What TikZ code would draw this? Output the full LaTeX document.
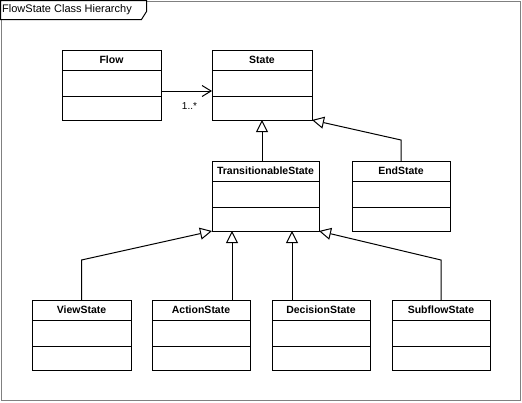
\documentclass[tikz,border=0pt]{standalone}
\usepackage{fontspec}
\setmainfont{Liberation Sans}
\usetikzlibrary{arrows.meta,calc}

% one UML class: name, left x, top y, width, class name
\newcommand\umlclass[5]{%
  \node[classbox, minimum width=#4pt, anchor=north west] (#1) at (#2,#3) {};
  \node[classname] (#1-title) at ($(#1.north)+(0,10)$) {#5};
  \draw[rule] ($(#1.north west)+(0,20)$) -- ($(#1.north east)+(0,20)$);
  \draw[rule] ($(#1.north west)+(0,46)$) -- ($(#1.north east)+(0,46)$);
}

\begin{document}
\begin{tikzpicture}[x=1pt, y=-1pt,
  classbox/.style={draw=black, line width=1pt, minimum height=70pt,
    inner sep=0pt, outer sep=0pt, fill=white},
  classname/.style={font=\bfseries\fontsize{10.5}{12}\selectfont, inner sep=0pt},
  rule/.style={line width=1pt, black},
  inherit/.style={line width=1pt, black,
    -{Triangle[open, length=12pt, width=12pt, fill=white]}},
  assoc/.style={line width=1pt, black, -{Straight Barb[length=9pt, width=11pt]}},
  frame/.style={draw=black!50, line width=1pt},
  tab/.style={draw=black, line width=1pt, fill=white}
]
\useasboundingbox (0,0) rectangle (522,402);
\fill[white] (0,0) rectangle (522,402);

% diagram frame and its title tab
\draw[frame] (1.5,1.5) rectangle (520.5,400.5);
\draw[tab] (0.5,0.5) -- (146.5,0.5) -- (146.5,11.5) -- (141.5,19.5) -- (0.5,19.5) -- cycle;
\node[anchor=west, inner sep=0pt, font=\fontsize{11}{13}\selectfont] (title) at (2,10) {FlowState Class Hierarchy};

% classes
\umlclass{flow}{62}{50}{99}{Flow}
\umlclass{state}{212}{50}{100}{State}
\umlclass{trans}{212}{161}{107}{TransitionableState}
\umlclass{end}{352}{161}{98}{EndState}
\umlclass{view}{32}{300}{99}{ViewState}
\umlclass{action}{152}{300}{98}{ActionState}
\umlclass{decision}{272}{300}{98}{DecisionState}
\umlclass{subflow}{392}{300}{98}{SubflowState}

% association Flow -> State
\draw[assoc] ([yshift=-41pt]flow.north east) -- ([yshift=-41pt]state.north west);
\node[inner sep=0pt, font=\fontsize{10}{12}\selectfont] (mult) at (189.5,106) {1..*};

% generalisations
\coordinate (ta) at ($(trans.south west)+(20,0)$);
\coordinate (td) at ($(trans.south west)+(80,0)$);
\draw[inherit] (trans.north -| state.south) -- (state.south);
\draw[inherit] (end.north) -- ++(0,-21) -- (state.south east);
\draw[inherit] (view.north) -- ++(0,-40) -- (trans.south west);
\draw[inherit] (ta |- action.north) -- (ta);
\draw[inherit] (td |- decision.north) -- (td);
\draw[inherit] (subflow.north) -- ++(0,-40) -- (trans.south east);
\end{tikzpicture}
\end{document}
